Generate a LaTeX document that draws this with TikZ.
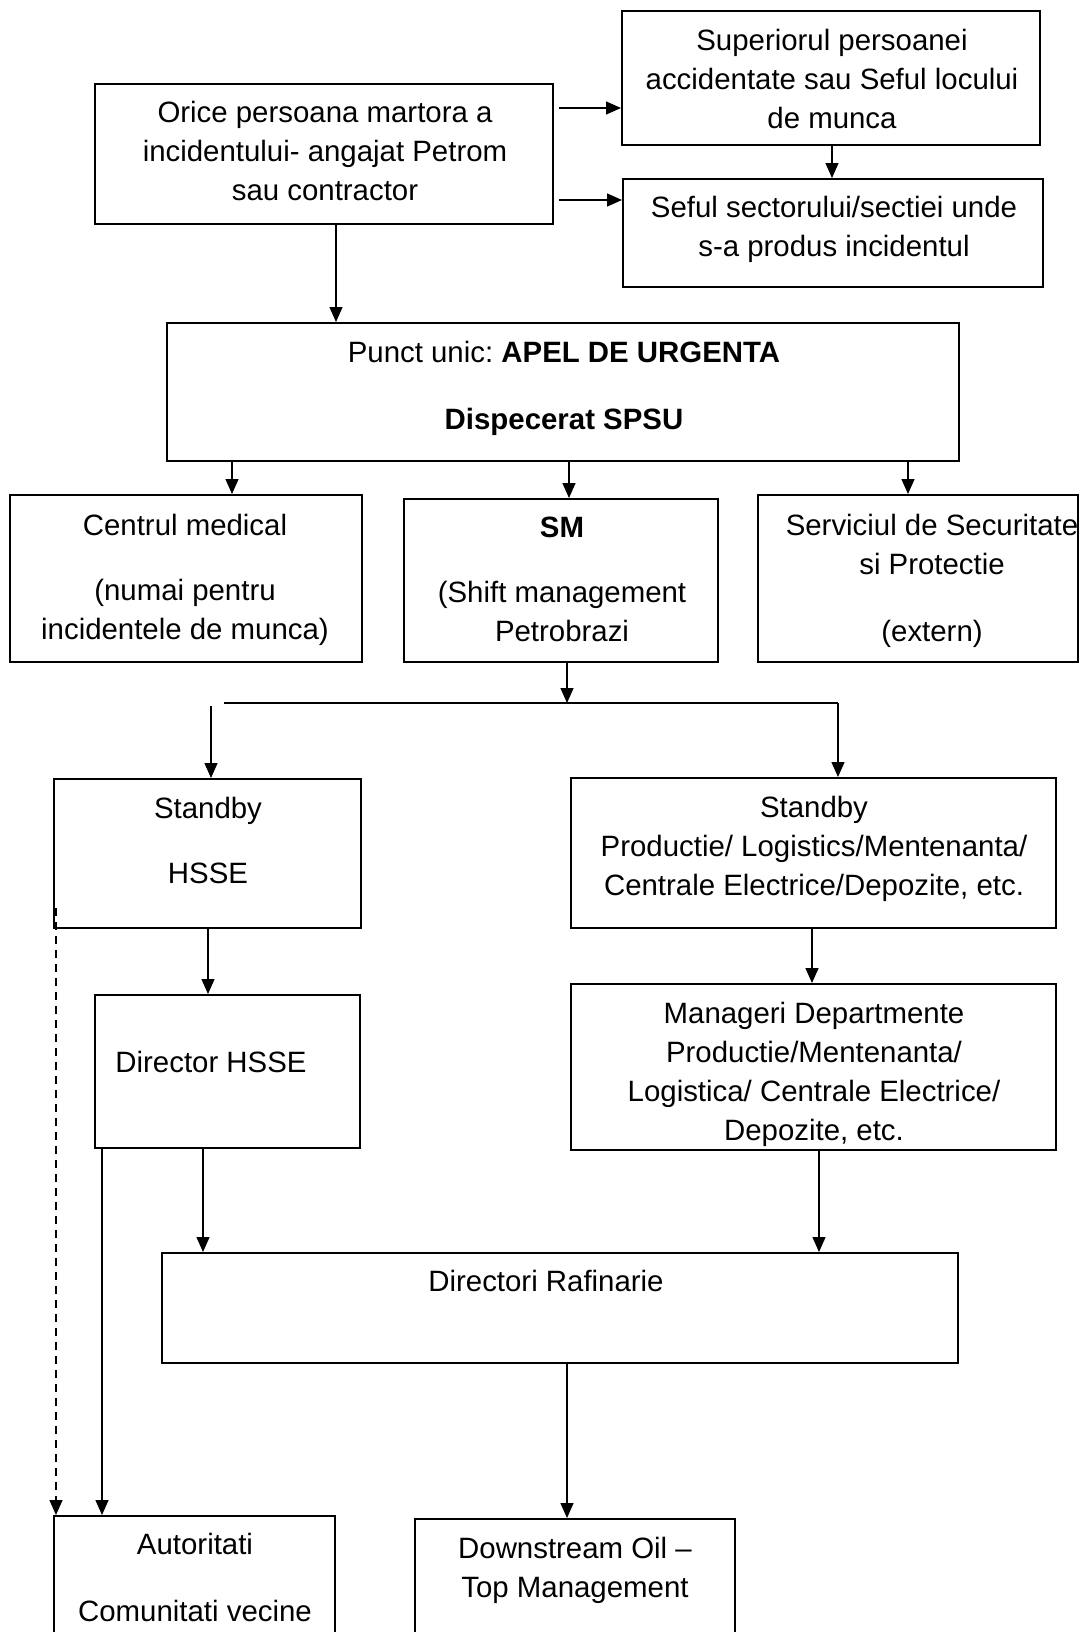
\documentclass[tikz,border=0pt]{standalone}
\usepackage{fontspec}
\setmainfont{Liberation Sans}
\frenchspacing
\usetikzlibrary{arrows.meta,positioning,calc}
\tikzset{
  flowbox/.style={rectangle, draw=black, line width=1pt, inner sep=0pt},
  boxtext/.style={anchor=north, inner sep=0pt, align=center,
    font=\fontsize{14.7}{19.5}\selectfont, execute at begin node=\strut},
  flowarrow/.style={-{Triangle[length=7.5pt,width=6.5pt]}, line width=0.7pt},
  flowline/.style={line width=0.9pt},
}

\begin{document}
\begin{tikzpicture}[x=0.5pt, y=-0.5pt]
\useasboundingbox (0,0) rectangle (1080,1632);
% boxes
\node[flowbox, minimum width=229pt, minimum height=70pt] (orice) at (324,154) {};
\node[flowbox, minimum width=209pt, minimum height=67pt] (sup) at (831,78) {};
\node[flowbox, minimum width=210pt, minimum height=54pt] (sef) at (833,233) {};
\node[flowbox, minimum width=396pt, minimum height=69pt] (punct) at (563,392) {};
\node[flowbox, minimum width=176pt, minimum height=83.5pt] (centrul) at (186,578.5) {};
\node[flowbox, minimum width=157pt, minimum height=81.5pt] (sm) at (561,580.5) {};
\node[flowbox, minimum width=160pt, minimum height=83.5pt] (serv) at (918,578.5) {};
\node[flowbox, minimum width=153.5pt, minimum height=74.5pt] (sb-hsse) at (207.5,853.5) {};
\node[flowbox, minimum width=242.5pt, minimum height=75pt] (sb-prod) at (813.5,853) {};
\node[flowbox, minimum width=132.5pt, minimum height=76.5pt] (dir-hsse) at (227.5,1071.5) {};
\node[flowbox, minimum width=242.5pt, minimum height=83pt] (mgr) at (813.5,1067) {};
\node[flowbox, minimum width=398pt, minimum height=55pt] (dir-raf) at (560,1308) {};
\node[flowbox, minimum width=140.5pt, minimum height=67pt] (aut) at (194.5,1583) {};
\node[flowbox, minimum width=160pt, minimum height=65.5pt] (down) at (575,1584.5) {};
% texts
\node[boxtext] at (325,101) {Orice persoana martora a\\incidentului- angajat Petrom\\sau contractor};
\node[boxtext] at (832,29) {Superiorul persoanei\\accidentate sau Seful locului\\de munca};
\node[boxtext] at (834,196) {Seful sectorului/sectiei unde\\s-a produs incidentul};
\node[boxtext] at (564,341) {Punct unic: \textbf{APEL DE URGENTA}\\[14pt]\textbf{Dispecerat SPSU}};
\node[boxtext] at (185,514) {Centrul medical\\[13pt](numai pentru\\incidentele de munca)};
\node[boxtext] at (562,517) {\textbf{SM}\\[13pt](Shift management\\Petrobrazi};
\node[boxtext] at (932,514) {Serviciul de Securitate\\si Protectie\\[14pt](extern)};
\node[boxtext] at (208,797) {Standby\\[13pt]HSSE};
\node[boxtext] at (814,796) {Standby\\Productie/ Logistics/Mentenanta/\\Centrale Electrice/Depozite, etc.};
\node[boxtext] at (211,1045) {Director HSSE};
\node[boxtext] at (814,1002) {Manageri Departmente\\Productie/Mentenanta/\\Logistica/ Centrale Electrice/\\Depozite, etc.};
\node[boxtext] at (546,1264) {Directori Rafinarie};
\node[boxtext] at (195,1533) {Autoritati\\[14pt]Comunitati vecine};
\node[boxtext] at (575,1537) {Downstream Oil –\\Top Management};
% connectors, top
\draw[flowarrow] ($(orice.east |- 0,108)+(5,0)$) -- (sup.west |- 0,108);
\draw[flowarrow] ($(orice.east |- 0,200)+(5,0)$) -- (sef.west |- 0,200);
\draw[flowarrow] (832,0 |- sup.south) -- (832,0 |- sef.north);
\draw[flowarrow] (336,0 |- orice.south) -- (336,0 |- punct.north);
% connectors from dispatch
\draw[flowarrow] (232,0 |- punct.south) -- (232,0 |- centrul.north);
\draw[flowarrow] (569,0 |- punct.south) -- (569,0 |- sm.north);
\draw[flowarrow] (908,0 |- punct.south) -- (908,0 |- serv.north);
% split under SM
\coordinate (split) at (567,703);
\coordinate (split-l) at (224,703);
\coordinate (split-r) at (838,703);
\coordinate (hsse-top) at (211,706);
\draw[flowarrow] (567,0 |- sm.south) -- (split);
\draw[flowline] (split-l) -- (split-r);
\draw[flowarrow] (split-r) -- (split-r |- sb-prod.north);
\draw[flowarrow] (hsse-top) -- (hsse-top |- sb-hsse.north);
% lower part
\draw[flowarrow] (208,0 |- sb-hsse.south) -- (208,0 |- dir-hsse.north);
\draw[flowarrow] (812,0 |- sb-prod.south) -- (812,0 |- mgr.north);
\draw[flowarrow] (203,0 |- dir-hsse.south) -- (203,0 |- dir-raf.north);
\draw[flowarrow] (819,0 |- mgr.south) -- (819,0 |- dir-raf.north);
\draw[flowarrow] (102,0 |- dir-hsse.south) -- (102,0 |- aut.north);
\draw[flowarrow] (567,0 |- dir-raf.south) -- (567,0 |- down.north);
\coordinate (dash-start) at (56,908);
\draw[flowarrow, dash pattern=on 4pt off 3pt] (dash-start) -- (dash-start |- aut.north);
\end{tikzpicture}
\end{document}
